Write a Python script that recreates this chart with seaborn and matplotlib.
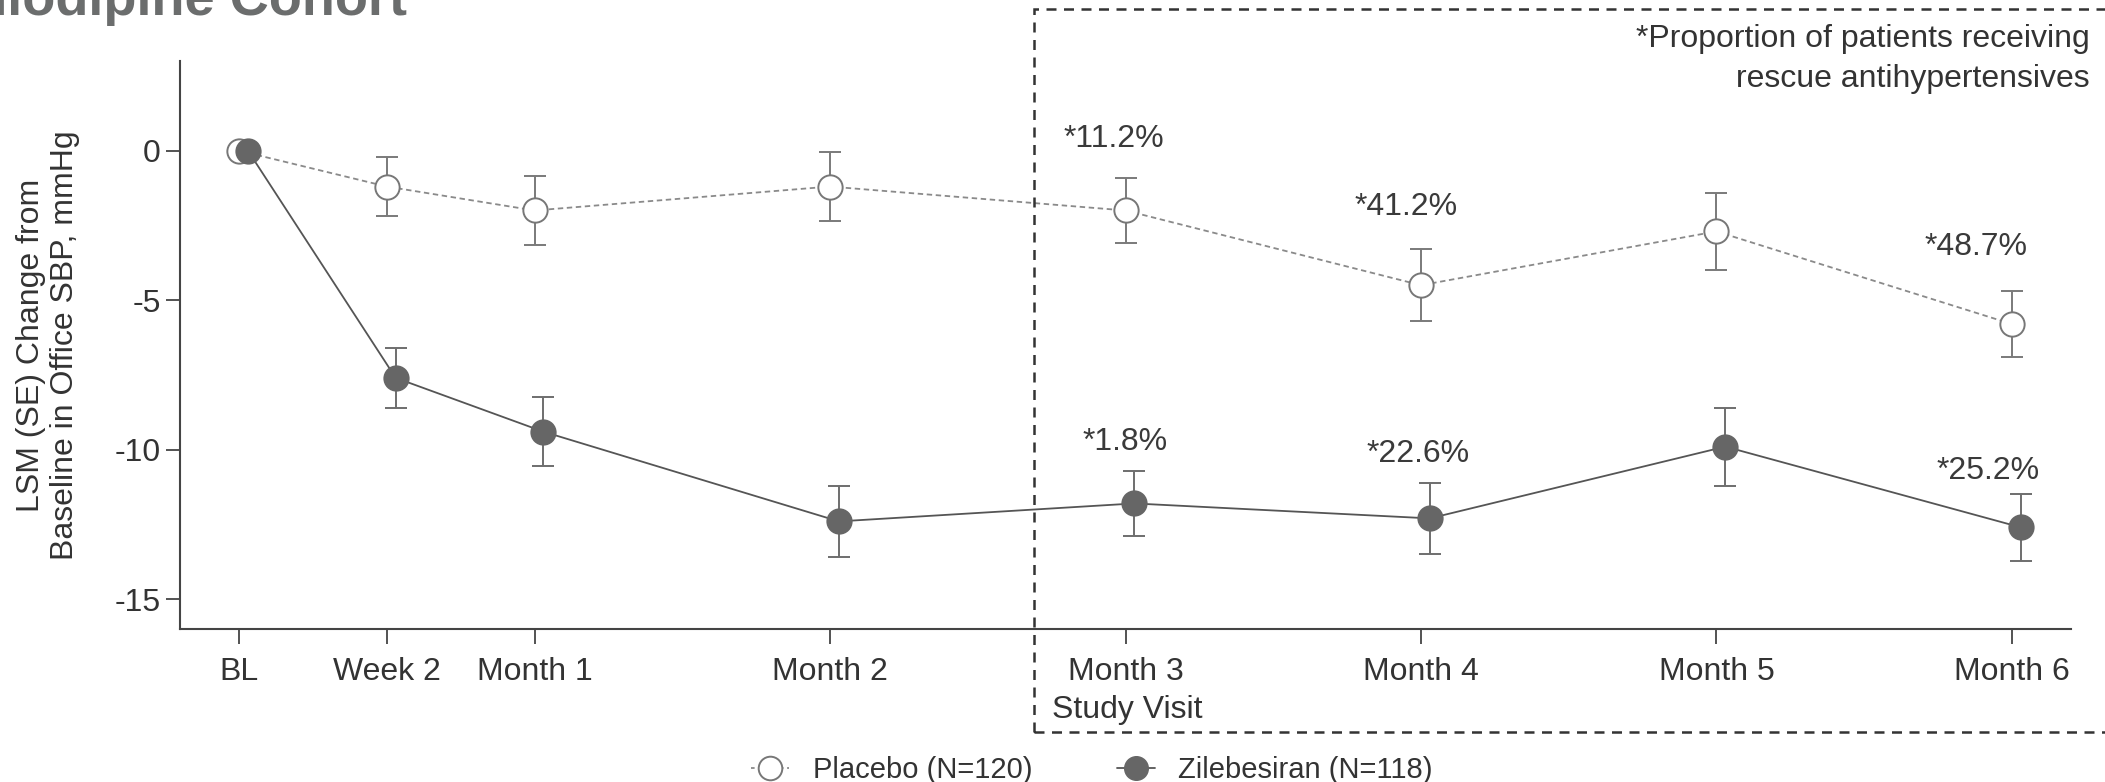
import pandas as pd
import seaborn as sns
import matplotlib.pyplot as plt
from matplotlib.lines import Line2D
from matplotlib.patches import Rectangle


# visit positions in months (BL = 0, Week 2 = 0.5)
visits = [0, 0.5, 1, 2, 3, 4, 5, 6]
visit_labels = ['BL', 'Week 2', 'Month 1', 'Month 2', 'Month 3', 'Month 4', 'Month 5', 'Month 6']

placebo_lsm = [0, -1.2, -2.0, -1.2, -2.0, -4.5, -2.7, -5.8]
placebo_se = [0, 1.0, 1.15, 1.15, 1.1, 1.2, 1.3, 1.1]
zile_lsm = [0, -7.6, -9.4, -12.4, -11.8, -12.3, -9.9, -12.6]
zile_se = [0, 1.0, 1.15, 1.2, 1.1, 1.2, 1.3, 1.13]

rescue_placebo = ['*11.2%', '*41.2%', '*48.7%']
rescue_zile = ['*1.8%', '*22.6%', '*25.2%']

groups = ['Placebo (N=120)', 'Zilebesiran (N=118)']

DODGE = 0.03

df = pd.concat([
    pd.DataFrame({'visit': visits, 'lsm': placebo_lsm, 'se': placebo_se, 'group': groups[0]}),
    pd.DataFrame({'visit': [v + DODGE for v in visits], 'lsm': zile_lsm, 'se': zile_se, 'group': groups[1]}),
])

sns.set_theme(style='ticks')
plt.rcParams['font.family'] = ['Liberation Sans', 'DejaVu Sans']

fig = plt.figure(figsize=(21.05, 7.82), dpi=100)
ax = fig.add_axes([180 / 2105, 1 - 629 / 782, 1891 / 2105, 568 / 782])

styles = {
    groups[0]: dict(color='#8a8a8a', linestyle=(0, (3, 2)), mfc='white', mec='#777777', bar='#7a7a7a'),
    groups[1]: dict(color='#555555', linestyle='-', mfc='#666666', mec='#666666', bar='#6e6e6e'),
}

for g in groups:
    sub = df[df['group'] == g]
    st = styles[g]
    ax.errorbar(sub['visit'], sub['lsm'], yerr=sub['se'], fmt='none', ecolor=st['bar'],
                elinewidth=1.4, capsize=8, capthick=1.4, zorder=2)
    sns.lineplot(data=sub, x='visit', y='lsm', ax=ax, color=st['color'], linestyle=st['linestyle'],
                 linewidth=1.3, marker='o', markersize=17.5, markerfacecolor=st['mfc'],
                 markeredgecolor=st['mec'], markeredgewidth=1.4, errorbar=None, zorder=3)

# rescue antihypertensive percentages
for txt, (x, y) in zip(rescue_placebo, [(2.96, 0.39), (3.95, -1.89), (5.88, -3.23)]):
    ax.text(x, y, txt, ha='center', va='center', fontsize=23, color='#3a3a3a')
for txt, (x, y) in zip(rescue_zile, [(3.0, -9.74), (3.99, -10.14), (5.92, -10.72)]):
    ax.text(x, y, txt, ha='center', va='center', fontsize=23, color='#3a3a3a')

ax.set_xlim(-0.2, 6.2)
ax.set_ylim(-16, 3)
ax.set_xticks(visits)
ax.set_xticklabels(visit_labels)
ax.set_yticks([0, -5, -10, -15])
ax.set_yticklabels(['0', '-5', '-10', '-15'])
ax.set_xlabel('')
ax.set_ylabel('LSM (SE) Change from\nBaseline in Office SBP, mmHg', fontsize=23, color='#333333', va='center')
ax.yaxis.set_label_coords((48 - 180) / 1891, 0.5)

for s in ['top', 'right']:
    ax.spines[s].set_visible(False)
for s in ['left', 'bottom']:
    ax.spines[s].set_color('#444444')
    ax.spines[s].set_linewidth(1.5)
ax.tick_params(axis='both', direction='out', width=1.3, color='#444444', labelsize=23, labelcolor='#333333')
ax.tick_params(axis='x', length=11, pad=9)
ax.tick_params(axis='y', length=10, pad=4)

# dashed box round the study visit region
box = Rectangle((1034 / 2105, 1 - 732 / 782), 1.2, (732 - 9) / 782, transform=fig.transFigure,
                fill=False, edgecolor='#333333', linewidth=1.8, linestyle=(0, (4, 3)), clip_on=False)
fig.patches.append(box)

fig.text(1052 / 2105, 1 - 710 / 782, 'Study Visit', ha='left', va='center', fontsize=23, color='#333333')
fig.text(2090 / 2105, 1 - 59 / 782, '*Proportion of patients receiving\nrescue antihypertensives',
         ha='right', va='center', fontsize=23, color='#333333', linespacing=1.4)

fig.text(407 / 2105, 1 - 15 / 782, 'Amlodipine Cohort', ha='right', va='baseline',
         fontsize=39, fontweight='bold', color='#6b6d6d')

handles = [
    Line2D([], [], color=styles[groups[0]]['color'], linestyle=(0, (2, 2)), linewidth=1.3, marker='o',
           markersize=17, mfc='white', mec='#777777', mew=1.4),
    Line2D([], [], color=styles[groups[1]]['color'], linestyle='-', linewidth=1.3, marker='o',
           markersize=17, mfc='#666666', mec='#666666'),
]
fig.legend(handles, groups, loc='center', bbox_to_anchor=(1092 / 2105, 1 - 770 / 782), ncol=2,
           frameon=False, fontsize=21, handlelength=1.3, handletextpad=0.8, columnspacing=2.9,
           labelcolor='#333333', borderpad=0)

fig.savefig('out.png', dpi=100)
